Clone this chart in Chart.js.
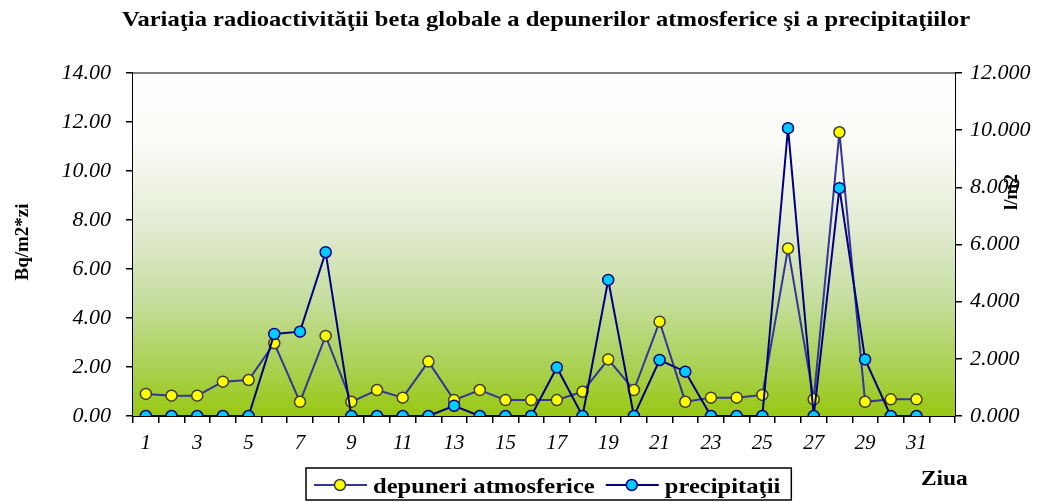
<!DOCTYPE html>
<html>
<head>
<meta charset="utf-8">
<script src="https://cdn.jsdelivr.net/npm/chart.js@4"></script>
<style>
  html, body { margin: 0; padding: 0; background: #fff; }
  #wrap { width: 1039px; height: 501px; }
</style>
</head>
<body>
<div id="wrap"><canvas id="chart" width="1039" height="501"></canvas></div>
<script>
// Chart data
const chartTitle = 'Variaţia radioactivităţii beta globale a depunerilor atmosferice şi a precipitaţiilor';
const days = ['1','2','3','4','5','6','7','8','9','10','11','12','13','14','15','16',
  '17','18','19','20','21','22','23','24','25','26','27','28','29','30','31',''];
const depuneri = [0.90, 0.83, 0.83, 1.40, 1.47, 2.97, 0.58, 3.27, 0.58, 1.06, 0.75,
  2.22, 0.65, 1.06, 0.65, 0.65, 0.65, 0.99, 2.31, 1.06, 3.85, 0.58, 0.75, 0.75,
  0.86, 6.84, 0.68, 11.58, 0.58, 0.68, 0.68];
const precipitatii = [0, 0, 0, 0, 0, 2.87, 2.95, 5.73, 0, 0, 0, 0, 0.36, 0, 0, 0,
  1.70, 0, 4.76, 0, 1.96, 1.55, 0, 0, 0, 10.07, 0, 7.97, 1.98, 0, 0];
const leftTicks = { min: 0, max: 14, step: 2 };
const rightTicks = { min: 0, max: 12, step: 2 };
const leftTitle = 'Bq/m2*zi';
const rightTitle = 'l/m2';
const xTitle = 'Ziua';

const SERIF = '"Liberation Serif", "Times New Roman", serif';
const STRETCH = 1.17; // the original text is drawn a bit wider than normal

// draw text stretched horizontally, x is the left edge
function wideText(ctx, text, x, y) {
  ctx.save();
  ctx.translate(x, y);
  ctx.scale(STRETCH, 1);
  ctx.textAlign = 'left';
  ctx.fillText(text, 0, 0);
  ctx.restore();
  return ctx.measureText(text).width * STRETCH;
}

// Background gradient, top border, titles, legend
const decorPlugin = {
  id: 'decor',
  beforeDatasetsDraw(chart) {
    const { ctx, chartArea: a } = chart;
    ctx.save();
    const g = ctx.createLinearGradient(0, a.top, 0, a.bottom);
    g.addColorStop(0, '#ffffff');
    g.addColorStop(0.2, '#fbfbf7');
    g.addColorStop(0.45, '#e2ebd2');
    g.addColorStop(0.65, '#c8dea2');
    g.addColorStop(0.85, '#abd155');
    g.addColorStop(1, '#98c812');
    ctx.fillStyle = g;
    ctx.fillRect(a.left, a.top, a.right - a.left, a.bottom - a.top);
    ctx.strokeStyle = '#808080';
    ctx.lineWidth = 2;
    ctx.beginPath();
    ctx.moveTo(a.left, a.top);
    ctx.lineTo(a.right, a.top);
    ctx.stroke();
    ctx.restore();
  },
  afterDraw(chart) {
    const { ctx } = chart;
    ctx.save();
    ctx.fillStyle = '#000';
    ctx.textBaseline = 'alphabetic';

    // Title, centred
    ctx.font = 'bold 21px ' + SERIF;
    const tw = ctx.measureText(chartTitle).width * STRETCH;
    wideText(ctx, chartTitle, 546 - tw / 2, 26);

    // Axis titles
    ctx.font = 'bold 19px ' + SERIF;
    ctx.textAlign = 'center';
    ctx.save();
    ctx.translate(28, 242);
    ctx.rotate(-Math.PI / 2);
    ctx.fillText(leftTitle, 0, 0);
    ctx.restore();
    ctx.save();
    ctx.translate(1017, 192);
    ctx.rotate(-Math.PI / 2);
    ctx.fillText(rightTitle, 0, 0);
    ctx.restore();
    ctx.font = 'bold 20px ' + SERIF;
    wideText(ctx, xTitle, 921, 485);

    // Legend with line + marker samples
    ctx.font = 'bold 21px ' + SERIF;
    let x = 314;
    const yMid = 485;
    chart.data.datasets.forEach((ds) => {
      ctx.strokeStyle = ds.borderColor;
      ctx.lineWidth = ds.borderWidth;
      ctx.beginPath();
      ctx.moveTo(x, yMid);
      ctx.lineTo(x + 53, yMid);
      ctx.stroke();
      ctx.beginPath();
      ctx.arc(x + 26, yMid, ds.pointRadius, 0, Math.PI * 2);
      ctx.fillStyle = ds.pointBackgroundColor;
      ctx.fill();
      ctx.strokeStyle = ds.pointBorderColor;
      ctx.lineWidth = ds.pointBorderWidth;
      ctx.stroke();
      ctx.fillStyle = '#000';
      const w = wideText(ctx, ds.label, x + 59, 493);
      x += 59 + w + 11;
    });
    ctx.strokeStyle = '#000';
    ctx.lineWidth = 1.5;
    ctx.strokeRect(306, 468, x - 306, 32);
    ctx.restore();
  }
};

const ctx = document.getElementById('chart').getContext('2d');
new Chart(ctx, {
  type: 'line',
  data: {
    labels: days,
    datasets: [
      {
        label: 'depuneri atmosferice',
        data: depuneri,
        yAxisID: 'y',
        borderColor: '#34349a',
        borderWidth: 2,
        pointBackgroundColor: '#ffff00',
        pointBorderColor: '#3c3c3c',
        pointBorderWidth: 1.5,
        pointRadius: 5.5,
        tension: 0,
        order: 1
      },
      {
        label: 'precipitaţii',
        data: precipitatii,
        yAxisID: 'y1',
        borderColor: '#000080',
        borderWidth: 2,
        pointBackgroundColor: '#00ccff',
        pointBorderColor: '#000080',
        pointBorderWidth: 1.5,
        pointRadius: 5.5,
        tension: 0,
        order: 0
      }
    ]
  },
  options: {
    responsive: false,
    animation: false,
    layout: { padding: { top: 73, left: 0, right: 0, bottom: 0 } },
    plugins: {
      legend: { display: false },
      title: { display: false },
      tooltip: { enabled: false }
    },
    scales: {
      x: {
        type: 'category',
        offset: true,
        grid: { offset: true, drawOnChartArea: false, color: '#000', lineWidth: 1.5, tickLength: 7 },
        border: { color: '#000', width: 2 },
        ticks: {
          autoSkip: false,
          maxRotation: 0,
          padding: 8,
          color: '#000',
          font: { family: SERIF, size: 21, style: 'italic' },
          callback: (v, i) => (i % 2 === 0 ? days[i] : '')
        },
        afterFit: (s) => { s.height = 85; }
      },
      y: {
        position: 'left',
        min: leftTicks.min,
        max: leftTicks.max,
        grid: { drawOnChartArea: false, color: '#000', lineWidth: 1.5, tickLength: 7 },
        border: { color: '#000', width: 2 },
        ticks: {
          stepSize: leftTicks.step,
          padding: 15,
          color: '#000',
          font: { family: SERIF, size: 22, style: 'italic' },
          callback: (v) => v.toFixed(2)
        },
        afterFit: (s) => { s.width = 133; }
      },
      y1: {
        position: 'right',
        min: rightTicks.min,
        max: rightTicks.max,
        grid: { drawOnChartArea: false, color: '#000', lineWidth: 1.5, tickLength: 7 },
        border: { color: '#000', width: 2 },
        ticks: {
          stepSize: rightTicks.step,
          padding: 8,
          color: '#000',
          font: { family: SERIF, size: 22, style: 'italic' },
          callback: (v) => v.toFixed(3)
        },
        afterFit: (s) => { s.width = 84; }
      }
    }
  },
  plugins: [decorPlugin]
});
</script>
</body>
</html>
